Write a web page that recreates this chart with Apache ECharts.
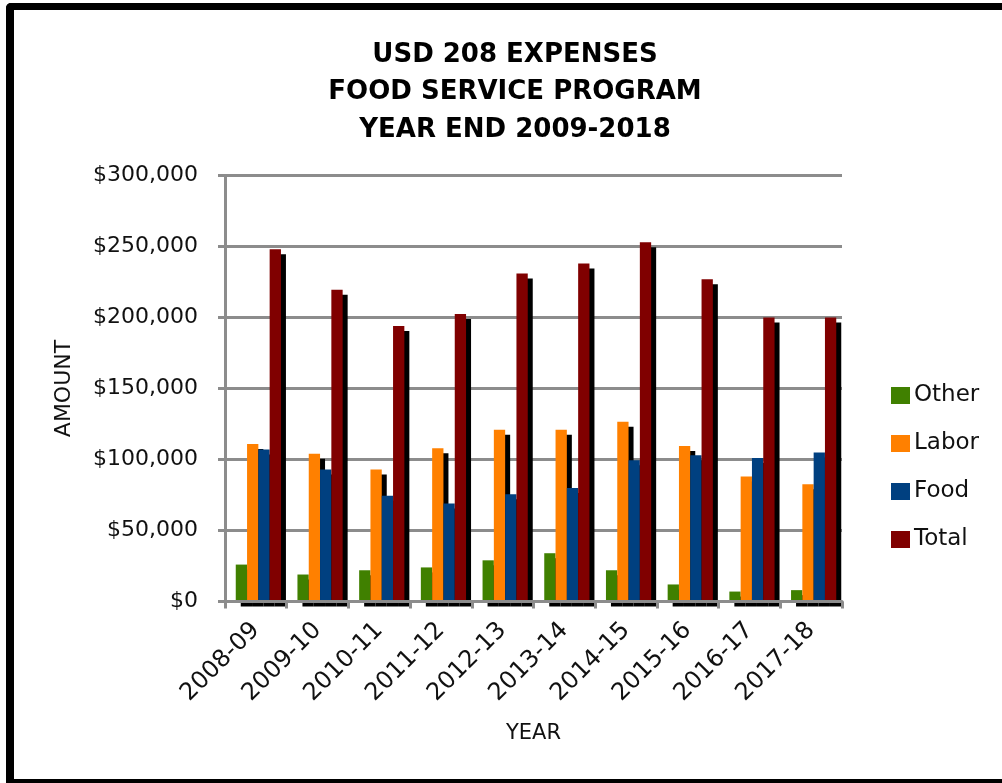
<!DOCTYPE html>
<html>
<head>
<meta charset="utf-8">
<script src="https://cdn.jsdelivr.net/npm/echarts@6/dist/echarts.min.js"></script>
<style>
  html, body { margin: 0; padding: 0; background: #fff; overflow: hidden; width: 1002px; height: 783px; }
  #chart { position: absolute; left: 0; top: 0; width: 1002px; height: 783px; }
  #frame { position: absolute; left: 6px; top: 3px; width: 1010px; height: 786px;
           border-left: 8px solid #000; border-top: 7px solid #000; border-bottom: 10px solid #000;
           border-top-left-radius: 5px; box-sizing: border-box; pointer-events: none; }
</style>
</head>
<body>
<div id="chart"></div>
<div id="frame"></div>
<script>
const categories = ['2008-09','2009-10','2010-11','2011-12','2012-13','2013-14','2014-15','2015-16','2016-17','2017-18'];
const otherValues = [26000, 19000, 22000, 24000, 29000, 34000, 22000, 12000, 7000, 8000];
const laborValues = [111000, 104000, 93000, 108000, 121000, 121000, 126500, 109500, 88000, 82500];
const foodValues  = [107000, 93000, 74500, 69000, 75500, 80000, 99500, 103000, 101000, 105000];
const totalValues = [248000, 219500, 194000, 202500, 231000, 238000, 253000, 227000, 200000, 200000];
const yTicks = [0, 50000, 100000, 150000, 200000, 250000, 300000];

const seriesNames = ['Other', 'Labor', 'Food', 'Total'];
const seriesData = [otherValues, laborValues, foodValues, totalValues];
const seriesColors = ['#408000', '#FF8000', '#004080', '#800000'];

const font = 'DejaVu Sans';
const gray = '#8c8c8c';
const yMin = yTicks[0], yMax = yTicks[yTicks.length - 1], yStep = yTicks[1] - yTicks[0];

const chart = echarts.init(document.getElementById('chart'), null, { renderer: 'canvas' });
chart.setOption({
  animation: false,
  backgroundColor: '#fff',
  title: {
    text: 'USD 208 EXPENSES\nFOOD SERVICE PROGRAM\nYEAR END 2009-2018',
    left: 510, top: 31, textAlign: 'center',
    textStyle: { fontFamily: font, fontWeight: 'bold', fontSize: 26, lineHeight: 37.5, color: '#000' }
  },
  legend: {
    orient: 'vertical', left: 886, top: 379,
    itemWidth: 19, itemHeight: 17, itemGap: 25,
    icon: 'rect',
    textStyle: { fontFamily: font, fontSize: 23, color: '#111', padding: [0, 0, 0, -1] },
    data: seriesNames
  },
  grid: [
    { left: 225, top: 175.5, width: 617, height: 426, containLabel: false },
    { left: 227.5, top: 175.5, width: 617, height: 426, containLabel: false }
  ],
  xAxis: [{
    type: 'category', data: categories, gridIndex: 0, z: 5,
    name: 'YEAR', nameLocation: 'middle', nameGap: 122,
    nameTextStyle: { fontFamily: font, fontSize: 21, color: '#111' },
    axisLine: { lineStyle: { color: gray, width: 3 } },
    axisTick: { show: true, length: 7, lineStyle: { color: gray, width: 3 } },
    axisLabel: { rotate: 45, fontFamily: font, fontSize: 24, color: '#111', margin: 25, interval: 0 }
  }, {
    type: 'category', data: categories, gridIndex: 1, show: false
  }],
  yAxis: [{
    type: 'value', min: yMin, max: yMax, interval: yStep, gridIndex: 0, z: 1,
    name: 'AMOUNT', nameLocation: 'middle', nameGap: 150,
    nameTextStyle: { fontFamily: font, fontSize: 22, color: '#111' },
    axisLine: { show: true, lineStyle: { color: gray, width: 3 } },
    axisTick: { show: true, length: 7, lineStyle: { color: gray, width: 3 } },
    splitLine: { show: true, lineStyle: { color: gray, width: 3 } },
    axisLabel: {
      fontFamily: font, fontSize: 22, color: '#111', margin: 27,
      formatter: v => '$' + v.toLocaleString('en-US')
    }
  }, {
    type: 'value', min: yMin, max: yMax, interval: yStep, gridIndex: 1, show: false,
    splitLine: { show: false }
  }],
  series: seriesNames.map((name, i) => ({
    name, type: 'bar', data: seriesData[i], xAxisIndex: 1, yAxisIndex: 1,
    barWidth: 11.3, barGap: '0%', z: 2,
    itemStyle: {
      color: seriesColors[i],
      shadowColor: '#000', shadowBlur: 0, shadowOffsetX: 5, shadowOffsetY: 5
    }
  }))
});
</script>
</body>
</html>
